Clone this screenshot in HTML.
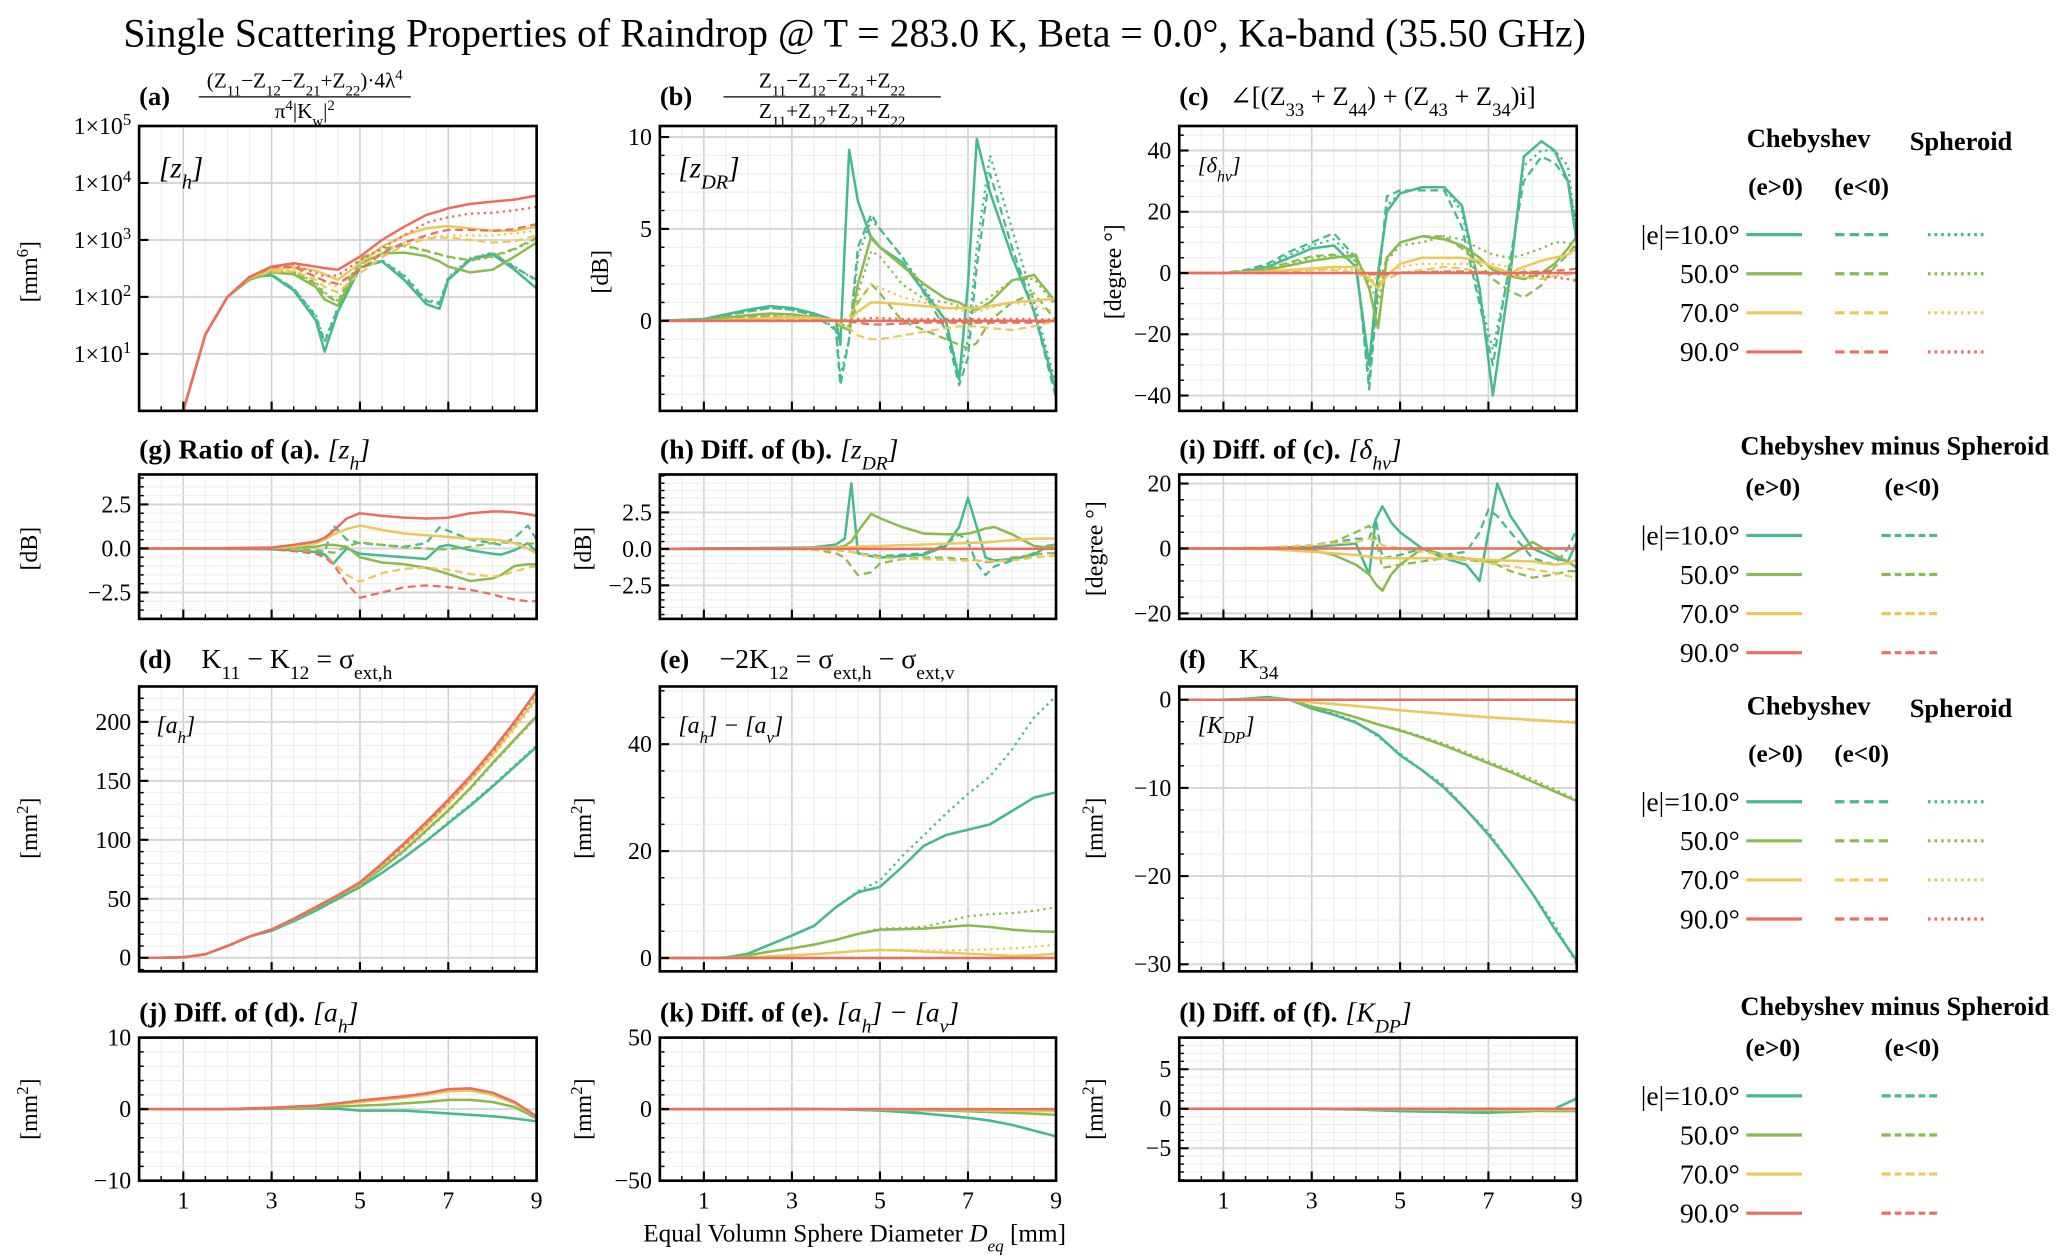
<!DOCTYPE html>
<html><head><meta charset="utf-8"><title>Single Scattering Properties of Raindrop</title>
<style>html,body{margin:0;padding:0;background:#fff}svg{display:block}</style></head>
<body>
<svg id="chart" xmlns="http://www.w3.org/2000/svg" width="2067" height="1259" viewBox="0 0 1560 950">
<rect x="0" y="0" width="1560" height="950" fill="#fff"/>
<text x="645" y="35" font-size="30" text-anchor="middle" font-family="Liberation Serif, serif">Single Scattering Properties of Raindrop @ T = 283.0 K, Beta = 0.0°, Ka-band (35.50 GHz)</text>
<text x="645" y="937" font-size="19" text-anchor="middle" font-family="Liberation Serif, serif">Equal Volumn Sphere Diameter <tspan font-style="italic">D</tspan><tspan font-style="italic" font-size="13" baseline-shift="sub">eq</tspan> [mm]</text>
</svg>
<script>
// ---- panel (a) z_h ----
const a_x = [1,1.5,2,2.5,3,3.5,4,4.2,4.5,5,5.5,6,6.5,6.8,7,7.5,8,8.5,9];
const a_s90 = [1,22,100,225,340,390,340,320,300,510,1000,1700,2750,3200,3600,4300,4700,5100,6000];
const a_p90 = [1,22,100,225,340,370,260,230,240,440,720,1200,2000,2300,2500,2900,3000,3300,3800];
const a_d90 = [1,22,100,220,330,340,225,190,170,300,580,900,1200,1400,1500,1500,1450,1550,1900];
const a_s70 = [1,22,100,220,300,330,290,250,200,390,760,1200,1600,1700,1750,1600,1450,1450,1700];
const a_p70 = [1,22,100,215,290,300,230,180,150,330,600,900,1100,1150,1200,1200,1200,1300,1450];
const a_d70 = [1,22,100,215,280,280,200,150,120,260,500,800,1050,1100,1100,1000,900,950,1200];
const a_s50 = [1,22,100,200,270,250,150,90,70,380,580,600,520,420,340,270,300,510,900];
const a_d50 = [1,22,100,205,280,270,170,110,80,470,700,800,650,560,510,440,520,700,1100];
const a_p50 = [1,22,100,205,280,275,180,120,85,450,680,780,640,550,500,430,500,680,1050];
const a_s10 = [1,22,100,220,240,130,39,11,55,330,420,200,75,62,200,450,560,300,140];
const a_d10 = [1,22,100,220,245,140,45,16,62,340,430,230,85,75,210,470,580,330,200];
const a_p10 = [1,22,100,220,245,140,48,17,66,350,440,240,90,80,220,480,600,340,190];
// ---- panel (b) z_DR ----
const b_x = [0,1,2,2.5,3,3.5,4,4.1,4.3,4.5,4.8,5,5.5,6,6.5,6.8,7,7.2,7.5,8,8.5,9];
const b_s10 = [0,0.1,0.6,0.8,0.7,0.4,0,-1.3,9.3,6.5,4.5,4,3.2,1.6,0,-3.2,2,9.9,7,3.5,0.5,-3.8];
const b_d10 = [0,0.1,0.5,0.7,0.6,0.3,-0.5,-3.5,-1,4,5.8,5,3.5,1.5,-0.5,-3.5,-2,3,8,4,0.5,-4.2];
const b_p10 = [0,0.1,0.5,0.7,0.6,0.3,-0.4,-3,-1,3.5,5.5,5,3.5,1.8,0,-3,-1,4,9,5,1,-3.5];
const b_s50 = [0,0.05,0.3,0.4,0.35,0.2,0,-0.3,-0.5,2,4.6,4,3,2,1.2,1,0.7,0.6,1,2.2,2.5,1];
const b_d50 = [0,0.05,0.2,0.25,0.2,0.1,0,-0.2,-0.3,1,2,1.5,0,-0.5,-1,-1.3,-1.5,-1.2,0,1,1.5,0];
const b_p50 = [0,0.05,0.25,0.3,0.3,0.15,0,-0.2,-0.3,1.5,3.8,3.5,2,1.2,1,0.8,0.7,0.8,1.3,2.2,2.3,0.8];
const b_s70 = [0,0,0.1,0.15,0.2,0.15,0.05,0,0,0.5,1,1,0.9,0.8,0.7,0.7,0.7,0.7,0.8,1,1.1,1.2];
const b_d70 = [0,0,0.05,0.1,0.1,0.05,0,-0.2,-0.4,-0.8,-1,-1,-0.8,-0.6,-0.4,-0.3,-0.3,-0.3,-0.4,-0.5,-0.3,0];
const b_p70 = [0,0,0.1,0.1,0.15,0.1,0,0,0.2,1,2,1.8,1.3,1,0.7,0.6,0.5,0.5,0.7,1,0.8,0.5];
const b_s90 = [0,0,0,0,0,0,0,0,0,0,0,0,0,0,0,0,0,0,0,0,0,0];
const b_d90 = [0,0,0,0,0,0,0,0,-0.05,-0.1,-0.2,-0.2,-0.15,-0.1,-0.1,-0.1,-0.1,-0.1,-0.1,-0.1,-0.1,0];
const b_p90 = [0,0,0,0,0,0,0,0,0.05,0.1,0.15,0.15,0.1,0.1,0.1,0.1,0.1,0.1,0.1,0.1,0.1,0.05];
// ---- panel (c) delta_hv ----
const c_x = [0,1,1.5,2,2.5,3,3.5,4,4.3,4.5,4.7,5,5.5,6,6.4,6.8,7.1,7.5,7.8,8.2,8.5,8.8,9];
const c_s10 = [0,0,0.5,2,5,8,9,2,-30,0,20,26,28,28,22,-5,-40,0,38,43,40,30,10];
const c_d10 = [0,0,1,3,7,10,13,5,-38,-5,25,27,27,27,15,-10,-30,5,30,38,36,30,15];
const c_p10 = [0,0,0.7,2.5,6,9,11,4,-35,-3,22,26,28,28,20,-8,-25,3,35,40,40,35,12];
const c_s50 = [0,0,0.3,1,2.5,4,5,6,-5,-18,5,10,12,11,9,5,1,-1,-2,0,3,8,12];
const c_d50 = [0,0,0.5,1.5,3.5,5.5,6,4,-2,-5,5,10,12,12,8,3,-2,-6,-8,-4,2,6,10];
const c_p50 = [0,0,0.4,1.2,3,5,5.5,5,-3,-10,4,9,10,12,11,8,6,5,6,8,10,10,8];
const c_s70 = [0,0,0.2,0.5,1,1.5,2,2,-2,-5,-1,3,5,5,5,4,2,0,2,4,5,6,8];
const c_d70 = [0,0,0.1,0.3,0.5,1,1,0,-2,-3,-2,0,1,2,1.5,0.5,0,-0.5,-1.5,-2,-1,-0.5,0];
const c_p70 = [0,0,0.1,0.4,0.8,1.2,1.5,1,-1,-2,0,2,3,3,3,3,3,2,1,0,-1,-2,-3];
const c_s90 = [0,0,0,0,0,0,0,0,0,0,0,0,0,0,0,0,0,0,0,0,0,0,0];
const c_d90 = [0,0,0,0,0,0,0,0,-0.3,-0.5,-0.3,0,0.3,0.5,0.5,0.3,0,0,0.3,0.5,0.8,1,1.5];
const c_p90 = [0,0,0,0,0,0,0,0,-0.2,-0.3,0,0.2,0.3,0.3,0.2,0,-0.3,-0.5,-0.8,-1,-1.5,-2,-2.3];
// ---- panel (g) ratio of zh ----
const g_x = [0,1,2,3,3.5,4,4.2,4.4,4.7,5,5.5,6,6.5,6.8,7,7.5,8,8.2,8.5,8.8,9];
const g_s90 = [0,0,0.02,0.05,0.2,0.4,0.6,1.0,1.7,2.0,1.85,1.75,1.7,1.72,1.75,2.0,2.1,2.1,2.05,1.95,1.85];
const g_d90 = [0,0,-0.02,-0.05,-0.15,-0.3,-0.5,-0.9,-2.0,-2.8,-2.5,-2.2,-2.1,-2.15,-2.2,-2.35,-2.6,-2.75,-2.9,-3.0,-3.0];
const g_s70 = [0,0,0.02,0.05,0.1,0.3,0.5,0.8,1.1,1.3,1.05,0.85,0.75,0.7,0.65,0.55,0.5,0.45,0.3,0,-0.3];
const g_d70 = [0,0,-0.02,-0.05,-0.1,-0.3,-0.5,-0.8,-1.5,-1.9,-1.4,-1.15,-1.1,-1.15,-1.2,-1.45,-1.6,-1.55,-1.3,-1.1,-1.0];
const g_s50 = [0,0,0,0.02,0.05,0.1,0.2,0.2,0.1,-0.5,-0.8,-0.9,-1.1,-1.3,-1.45,-1.85,-1.7,-1.5,-1.0,-0.9,-0.9];
const g_d50 = [0,0,0,-0.02,-0.05,-0.1,-0.15,-0.25,0.1,0.35,0.2,0.05,0.0,-0.05,-0.05,0.1,0.3,0.35,0.3,0.25,0.3];
const g_s10 = [0,0,-0.02,-0.05,-0.1,-0.2,-0.35,-0.85,0,-0.3,-0.4,-0.5,-0.6,0.1,0.2,-0.1,-0.3,-0.35,-0.1,0.3,-0.2];
const g_d10 = [0,0,-0.02,-0.05,-0.1,-0.2,-0.2,1.3,0.5,0.3,0.2,0.1,0.3,1.2,1.0,0.5,0.3,0.2,0.6,1.3,0.5];
// ---- panel (h) diff of zdr ----
const h_x = [0,1,2,3,3.5,4,4.2,4.35,4.5,4.8,5,5.5,6,6.5,6.8,7,7.2,7.4,7.6,8,8.5,8.8,9];
const h_s10 = [0,0.03,0.05,0.08,0.1,0.3,0.7,4.5,-0.3,-0.5,-0.6,-0.5,-0.4,0.2,1.5,3.5,1.5,-0.6,-0.8,-0.7,-0.4,0.2,0.3];
const h_d10 = [0,0,0,0,0,0,-0.1,-0.2,-0.3,-0.4,-0.5,-0.4,-0.3,0.3,1.0,0.5,-1.0,-1.8,-1.2,-0.8,-0.3,0.2,0];
const h_s50 = [0,0,0,0.02,0.05,0.1,0.2,0.5,1.2,2.4,2.1,1.5,1.05,1.0,1.0,1.05,1.2,1.4,1.5,1.0,0.2,0.1,0.3];
const h_d50 = [0,0,0,-0.02,-0.05,-0.3,-0.6,-1.2,-1.8,-1.6,-1.0,-0.7,-0.6,-0.6,-0.7,-0.7,-0.8,-0.9,-0.9,-0.6,-0.4,-0.3,-0.3];
const h_s70 = [0,0,0,0.02,0.05,0.08,0.1,0.12,0.15,0.2,0.2,0.25,0.3,0.35,0.38,0.4,0.42,0.45,0.5,0.6,0.7,0.7,0.7];
const h_d70 = [0,0,0,-0.02,-0.05,-0.1,-0.15,-0.2,-0.3,-0.5,-0.6,-0.7,-0.7,-0.75,-0.8,-0.8,-0.8,-0.85,-0.85,-0.8,-0.6,-0.5,-0.5];
const h_s90 = [0,0,0,0,0,0,0,0,0,0,0,0,0,0,0,0,0,0,0,0,0,0,0];
const h_d90 = [0,0,0,0,0,0,0,0,0,0,0,0,0,0,0,0,0,0,0,0,0,0,0];
// ---- panel (i) diff of delta_hv ----
const i_x = [0,1,2,3,3.5,4,4.3,4.45,4.6,4.8,5,5.5,6,6.5,6.8,7,7.2,7.5,8,8.5,8.8,9];
const i_s10 = [0,0,0.2,0.5,1,1.5,-8,9,13,8,5,0,-3,-5,-10,5,20,10,0,-3,-4,2];
const i_d10 = [0,0,0.3,1,2,3,3,9,-3,-2.5,-2,0,-2,-1,5,12,10,5,-3,-5,0,6];
const i_s50 = [0,0,-0.2,-0.5,-2,-5,-8,-11,-13,-8,-5,0,-2,-3,-3.5,-4,-4,-2,2,-2,-4,-6];
const i_d50 = [0,0,0.3,1,2,5,7,3,-6,-5.5,-5,-4,-3,-3.5,-4,-4,-5,-7,-9,-8,-7,-7];
const i_s70 = [0,0,-0.2,-1,-1.5,-2,-2.5,-3,-3,-3,-3,-3,-3,-3.2,-3.4,-3.5,-3.6,-3.8,-4,-5,-4.5,-3.5];
const i_d70 = [0,0,0.3,1,1.5,2,3,2.5,1,0.5,0,-1,-2,-3,-4,-4.5,-5,-5.5,-6.5,-7.5,-8.5,-9];
const i_s90 = [0,0,0,0,0,0,0,0,0,0,0,0,0,0,0,0,0,0,0,0,0,0];
const i_d90 = [0,0,0,0,0,0,0,0,0,0,0,0,0,0,0,0,0,0,0,0,0,0];
// ---- row 3 / row 4 shared x ----
const r_x = [0,0.5,1,1.5,2,2.5,3,3.5,4,4.5,5,5.5,6,6.5,7,7.5,8,8.5,9];
// (d) a_h
const d_s90 = [0,0,0.5,3,10,18,24,33,43,53,64,80,97,115,134,154,176,200,226];
const d_s70 = [0,0,0.5,3,10,18,24,33,43,53,63,79,95,112,131,151,172,196,220];
const d_s50 = [0,0,0.5,3,10,18,24,32,42,52,62,76,91,108,125,144,165,185,205];
const d_s10 = [0,0,0.5,3,10,18,23,31,40,50,60,72,85,99,114,129,145,162,179];
const d_p90 = [0,0,0.5,3,10,18,24,33,43,53,63,79,95,113,132,152,174,198,224];
const d_p70 = [0,0,0.5,3,10,18,24,33,43,53,62,78,94,111,130,150,170,194,218];
const d_p50 = [0,0,0.5,3,10,18,24,32,42,52,61,76,90,107,124,143,164,184,204];
const d_p10 = [0,0,0.5,3,10,18,23,31,40,50,60,72,85,99,115,130,146,163,180];
// (e) a_h - a_v
const e_s10 = [0,0,0,0.1,0.8,2.5,4.2,6,9.5,12.3,13.3,17,21,23,24,25,27.5,30,31];
const e_p10 = [0,0,0,0.1,0.8,2.5,4.2,6,9.5,12.5,14.5,19,23,27,30.7,34,39,45,49];
const e_s50 = [0,0,0,0.05,0.5,1.2,1.8,2.5,3.4,4.5,5.3,5.4,5.5,5.8,6.1,5.8,5.3,5,4.9];
const e_p50 = [0,0,0,0.05,0.5,1.2,1.8,2.5,3.4,4.6,5.5,5.6,5.8,6.8,7.8,8.2,8.4,8.8,9.5];
const e_s70 = [0,0,0,0,0.1,0.3,0.5,0.7,1,1.3,1.5,1.4,1.2,1,0.8,0.6,0.4,0.5,0.8];
const e_p70 = [0,0,0,0,0.1,0.3,0.5,0.7,1,1.3,1.5,1.5,1.4,1.4,1.5,1.6,1.8,2.1,2.5];
const e_s90 = [0,0,0,0,0,0,0,0,0,0,0,0,0,0,0,0,0,0,0];
// (f) K_DP
const f_s10 = [0,0,0,0.1,0.3,0,-1,-1.7,-2.6,-4,-6.3,-8,-10,-12.5,-15.3,-18.5,-22,-26,-29.6];
const f_p10 = [0,0,0,0.1,0.3,0,-0.9,-1.6,-2.5,-4.2,-6.1,-8,-9.7,-12.5,-15,-18.5,-22,-25.5,-30];
const f_s50 = [0,0,0,0.05,0.15,0,-0.8,-1.3,-2,-2.8,-3.5,-4.3,-5.2,-6.2,-7.2,-8.2,-9.3,-10.4,-11.5];
const f_p50 = [0,0,0,0.05,0.15,0,-0.8,-1.3,-2,-2.8,-3.4,-4.2,-5,-6,-7,-8,-9,-10.2,-11.3];
const f_s70 = [0,0,0,0,0.05,0,-0.3,-0.5,-0.7,-0.95,-1.2,-1.4,-1.6,-1.8,-2,-2.15,-2.3,-2.45,-2.6];
const f_p70 = [0,0,0,0,0.05,0,-0.3,-0.5,-0.7,-0.95,-1.2,-1.4,-1.6,-1.75,-1.95,-2.1,-2.25,-2.4,-2.5];
const f_s90 = [0,0,0,0,0,0,0,0,0,0,0,0,0,0,0,0,0,0,0];
// (j) diff a_h
const j_s90 = [0,0,0,0,0,0.1,0.2,0.35,0.5,0.8,1.2,1.5,1.8,2.2,2.8,2.9,2.3,1.0,-1.0];
const j_s70 = [0,0,0,0,0,0.1,0.2,0.3,0.45,0.7,1.0,1.3,1.6,2.0,2.5,2.6,2.0,0.8,-1.0];
const j_s50 = [0,0,0,0,0,0.05,0.1,0.15,0.2,0.35,0.5,0.6,0.8,1.0,1.3,1.3,1.0,0.3,-1.3];
const j_s10 = [0,0,0,0,0,0.02,0.05,0.1,0.1,0.05,-0.2,-0.2,-0.2,-0.4,-0.6,-0.8,-1.0,-1.3,-1.7];
// (k) diff a_h - a_v
const k_s10 = [0,0,0,0,0,0.2,0.3,0.2,0,-0.5,-1,-2,-3,-4.5,-6,-8,-11,-15,-19];
const k_s50 = [0,0,0,0,0,0,0,0,-0.1,-0.2,-0.4,-0.6,-0.8,-1,-1.5,-2,-2.5,-3.2,-4];
const k_s70 = [0,0,0,0,0,0,0,0,0,-0.1,-0.2,-0.3,-0.4,-0.5,-0.7,-0.9,-1,-1.2,-1.5];
const k_s90 = [0,0,0,0,0,0,0,0,0,0,0,0,0,0,0,0,0,0,0];
// (l) diff K_DP
const l_s10 = [0,0,0,0,0,0,0,-0.05,-0.1,-0.2,-0.3,-0.35,-0.4,-0.45,-0.5,-0.4,-0.3,0,1.3];
const l_s50 = [0,0,0,0,0,0,0,0,-0.05,-0.08,-0.1,-0.12,-0.15,-0.2,-0.2,-0.25,-0.25,-0.3,-0.3];
const l_s70 = [0,0,0,0,0,0,0,0,0,-0.03,-0.05,-0.06,-0.08,-0.1,-0.1,-0.1,-0.1,-0.1,-0.1];
const l_s90 = [0,0,0,0,0,0,0,0,0,0,0,0,0,0,0,0,0,0,0];

const COL = {10:'#47b98e',50:'#8bbb4f',70:'#ebc85a',90:'#eb6d5f'};
const SERIF = 'Liberation Serif, DejaVu Serif, serif';
const NS = 'http://www.w3.org/2000/svg';
const svg = document.getElementById('chart');

function mk(tag, attrs, parent) {
  const e = document.createElementNS(NS, tag);
  for (const k in attrs) e.setAttribute(k, attrs[k]);
  (parent || svg).appendChild(e);
  return e;
}
function rich(parent, x, y, str, size, anchor, extra) {
  const t = mk('text', {x: x, y: y, 'font-size': size, 'font-family': SERIF, 'text-anchor': anchor || 'start'}, parent);
  if (extra) for (const k in extra) t.setAttribute(k, extra[k]);
  const re = /(_\{[^}]*\}|\^\{[^}]*\}|[^_^]+)/g;
  let m;
  while ((m = re.exec(str)) !== null) {
    const tok = m[0];
    const ts = document.createElementNS(NS, 'tspan');
    if (tok.startsWith('_{')) { ts.textContent = tok.slice(2, -1); ts.setAttribute('baseline-shift', 'sub'); ts.setAttribute('font-size', size * 0.7); }
    else if (tok.startsWith('^{')) { ts.textContent = tok.slice(2, -1); ts.setAttribute('baseline-shift', 'super'); ts.setAttribute('font-size', size * 0.7); }
    else ts.textContent = tok;
    t.appendChild(ts);
  }
  return t;
}

const COLS = [[105,405],[498,797],[890,1190]];
const ROWS = [[95,310],[358,467],[518,733],[783,891]];
let clipN = 0;

function panel(name, col, row, ymin, ymax, log, majors, minors, fmt, series, xlabels) {
  const [x0, x1] = COLS[col], [y0, y1] = ROWS[row];
  const g = mk('g', {});
  
  
  const X = v => x0 + (v - 0) / 9 * (x1 - x0);
  const Y = log ? (v => y1 - (Math.log10(Math.max(v, 1e-3)) - Math.log10(ymin)) / (Math.log10(ymax) - Math.log10(ymin)) * (y1 - y0))
                : (v => y1 - (v - ymin) / (ymax - ymin) * (y1 - y0));
  const cid = 'clip' + (clipN++);
  const cp = mk('clipPath', {id: cid}, g);
  mk('rect', {x: x0, y: y0, width: x1 - x0, height: y1 - y0}, cp);
  const grid = mk('g', {}, g);
  
  
  for (let k = 1; k <= 17; k++) {
    const v = k * 0.5; const major = (v % 2 === 1);
    mk('line', {x1: X(v), x2: X(v), y1: y0, y2: y1, stroke: major ? '#d0d0d0' : '#ededed', 'stroke-width': major ? 1.2 : 0.8}, grid);
  }
  minors.forEach(v => mk('line', {x1: x0, x2: x1, y1: Y(v), y2: Y(v), stroke: '#eeeeee', 'stroke-width': 0.8}, grid));
  majors.forEach(v => mk('line', {x1: x0, x2: x1, y1: Y(v), y2: Y(v), stroke: '#d6d6d6', 'stroke-width': 1.5}, grid));
  const sg = mk('g', {'clip-path': 'url(#' + cid + ')'}, g);
  series.forEach(s => {
    const d = s.y.map((v, i) => (i ? 'L' : 'M') + X(s.x[i]).toFixed(2) + ' ' + Y(v).toFixed(2)).join('');
    const p = mk('path', {d: d, fill: 'none', stroke: COL[s.a], 'stroke-width': s.st === 's' ? 1.9 : 1.7, 'stroke-linejoin': 'round'}, sg);
    if (s.st === 'd') p.setAttribute('stroke-dasharray', '6,3.5');
    if (s.st === 'p') p.setAttribute('stroke-dasharray', '1.8,3');
    
    
  });
  const fr = mk('rect', {x: x0, y: y0, width: x1 - x0, height: y1 - y0, fill: 'none', stroke: '#000', 'stroke-width': 2}, g);
  
  
  for (let k = 1; k <= 18; k++) {
    const v = k * 0.5; const major = (v % 2 === 1);
    mk('line', {x1: X(v), x2: X(v), y1: y1, y2: y1 - (major ? 7 : 3.5), stroke: '#000', 'stroke-width': major ? 1.6 : 1.1}, g);
  }
  minors.forEach(v => mk('line', {x1: x0, x2: x0 + 3.5, y1: Y(v), y2: Y(v), stroke: '#000', 'stroke-width': 1.1}, g));
  majors.forEach(v => {
    mk('line', {x1: x0, x2: x0 + 7, y1: Y(v), y2: Y(v), stroke: '#000', 'stroke-width': 1.6}, g);
    const t = rich(g, x0 - 6, Y(v) + 6, fmt(v), 18, 'end');
    
    
  });
  if (xlabels) {
    [1,3,5,7,9].forEach(v => {
      const t = mk('text', {x: X(v), y: y1 + 21, 'font-size': 18, 'font-family': SERIF, 'text-anchor': 'middle'}, g);
      t.textContent = String(v);
      
      
    });
  }
  return g;
}
function S(x, y, a, st) { return {x: x, y: y, a: a, st: st}; }
const neg = v => (v < 0 ? '\u2212' + Math.abs(v) : String(v));
const neg1 = v => (v < 0 ? '\u2212' + Math.abs(v).toFixed(1) : v.toFixed(1));
function rng(a, b, s) { const r = []; for (let v = a; v <= b + 1e-9; v += s) r.push(Math.round(v * 100) / 100); return r; }

panel('a', 0, 0, 1, 1e5, true, [10,100,1000,10000,100000], [], v => '1×10^{' + Math.round(Math.log10(v)) + '}', [
  S(a_x,a_p10,10,'p'),S(a_x,a_d10,10,'d'),S(a_x,a_s10,10,'s'),
  S(a_x,a_p50,50,'p'),S(a_x,a_d50,50,'d'),S(a_x,a_s50,50,'s'),
  S(a_x,a_p70,70,'p'),S(a_x,a_d70,70,'d'),S(a_x,a_s70,70,'s'),
  S(a_x,a_p90,90,'p'),S(a_x,a_d90,90,'d'),S(a_x,a_s90,90,'s')], false);
panel('b', 1, 0, -4.9, 10.6, false, [0,5,10], rng(-4,10,1), neg, [
  S(b_x,b_p10,10,'p'),S(b_x,b_d10,10,'d'),S(b_x,b_s10,10,'s'),
  S(b_x,b_p50,50,'p'),S(b_x,b_d50,50,'d'),S(b_x,b_s50,50,'s'),
  S(b_x,b_p70,70,'p'),S(b_x,b_d70,70,'d'),S(b_x,b_s70,70,'s'),
  S(b_x,b_p90,90,'p'),S(b_x,b_d90,90,'d'),S(b_x,b_s90,90,'s')], false);
panel('c', 2, 0, -45, 48, false, [-40,-20,0,20,40], rng(-45,45,5), neg, [
  S(c_x,c_p10,10,'p'),S(c_x,c_d10,10,'d'),S(c_x,c_s10,10,'s'),
  S(c_x,c_p50,50,'p'),S(c_x,c_d50,50,'d'),S(c_x,c_s50,50,'s'),
  S(c_x,c_p70,70,'p'),S(c_x,c_d70,70,'d'),S(c_x,c_s70,70,'s'),
  S(c_x,c_p90,90,'p'),S(c_x,c_d90,90,'d'),S(c_x,c_s90,90,'s')], false);
panel('g', 0, 1, -4, 4.2, false, [-2.5,0,2.5], rng(-4,4,0.5), neg1, [
  S(g_x,g_d10,10,'d'),S(g_x,g_s10,10,'s'),S(g_x,g_d50,50,'d'),S(g_x,g_s50,50,'s'),
  S(g_x,g_d70,70,'d'),S(g_x,g_s70,70,'s'),S(g_x,g_d90,90,'d'),S(g_x,g_s90,90,'s')], false);
panel('h', 1, 1, -4.8, 5.1, false, [-2.5,0,2.5], rng(-4.5,5,0.5), neg1, [
  S(h_x,h_d10,10,'d'),S(h_x,h_s10,10,'s'),S(h_x,h_d50,50,'d'),S(h_x,h_s50,50,'s'),
  S(h_x,h_d70,70,'d'),S(h_x,h_s70,70,'s'),S(h_x,h_d90,90,'d'),S(h_x,h_s90,90,'s')], false);
panel('i', 2, 1, -21.7, 22.8, false, [-20,0,20], rng(-20,20,5), neg, [
  S(i_x,i_d10,10,'d'),S(i_x,i_s10,10,'s'),S(i_x,i_d50,50,'d'),S(i_x,i_s50,50,'s'),
  S(i_x,i_d70,70,'d'),S(i_x,i_s70,70,'s'),S(i_x,i_d90,90,'d'),S(i_x,i_s90,90,'s')], false);
panel('d', 0, 2, -11.5, 230, false, [0,50,100,150,200], rng(-10,230,10), neg, [
  S(r_x,d_p10,10,'p'),S(r_x,d_s10,10,'d'),S(r_x,d_s10,10,'s'),
  S(r_x,d_p50,50,'p'),S(r_x,d_s50,50,'d'),S(r_x,d_s50,50,'s'),
  S(r_x,d_p70,70,'p'),S(r_x,d_s70,70,'d'),S(r_x,d_s70,70,'s'),
  S(r_x,d_p90,90,'p'),S(r_x,d_s90,90,'d'),S(r_x,d_s90,90,'s')], false);
panel('e', 1, 2, -2.5, 50.8, false, [0,20,40], rng(0,50,5), neg, [
  S(r_x,e_p10,10,'p'),S(r_x,e_s10,10,'d'),S(r_x,e_s10,10,'s'),
  S(r_x,e_p50,50,'p'),S(r_x,e_s50,50,'d'),S(r_x,e_s50,50,'s'),
  S(r_x,e_p70,70,'p'),S(r_x,e_s70,70,'d'),S(r_x,e_s70,70,'s'),
  S(r_x,e_s90,90,'p'),S(r_x,e_s90,90,'d'),S(r_x,e_s90,90,'s')], false);
panel('f', 2, 2, -30.8, 1.5, false, [-30,-20,-10,0], rng(-30,0,2.5), neg, [
  S(r_x,f_p10,10,'p'),S(r_x,f_s10,10,'d'),S(r_x,f_s10,10,'s'),
  S(r_x,f_p50,50,'p'),S(r_x,f_s50,50,'d'),S(r_x,f_s50,50,'s'),
  S(r_x,f_p70,70,'p'),S(r_x,f_s70,70,'d'),S(r_x,f_s70,70,'s'),
  S(r_x,f_s90,90,'p'),S(r_x,f_s90,90,'d'),S(r_x,f_s90,90,'s')], false);
panel('j', 0, 3, -10, 10, false, [-10,0,10], rng(-10,10,2), neg, [
  S(r_x,j_s10,10,'d'),S(r_x,j_s10,10,'s'),S(r_x,j_s50,50,'d'),S(r_x,j_s50,50,'s'),
  S(r_x,j_s70,70,'d'),S(r_x,j_s70,70,'s'),S(r_x,j_s90,90,'d'),S(r_x,j_s90,90,'s')], true);
panel('k', 1, 3, -50, 50, false, [-50,0,50], rng(-50,50,10), neg, [
  S(r_x,k_s10,10,'d'),S(r_x,k_s10,10,'s'),S(r_x,k_s50,50,'d'),S(r_x,k_s50,50,'s'),
  S(r_x,k_s70,70,'d'),S(r_x,k_s70,70,'s'),S(r_x,k_s90,90,'d'),S(r_x,k_s90,90,'s')], true);
panel('l', 2, 3, -9.1, 9, false, [-5,0,5], rng(-9,9,1), neg, [
  S(r_x,l_s10,10,'d'),S(r_x,l_s10,10,'s'),S(r_x,l_s50,50,'d'),S(r_x,l_s50,50,'s'),
  S(r_x,l_s70,70,'d'),S(r_x,l_s70,70,'s'),S(r_x,l_s90,90,'d'),S(r_x,l_s90,90,'s')], true);

// ---- titles ----
function label(x, y, str, size, name, opts) {
  const t = rich(svg, x, y, str, size, (opts && opts.anchor) || 'start', opts && opts.extra);
  
  
  return t;
}
const B = {'font-weight': 'bold'};
const IT = {'font-style': 'italic'};
function titled(x, y, boldStr, varStr, name) {
  const t = label(x, y, boldStr, 21, name, {extra: B});
  let w = 0;
  try { w = t.getComputedTextLength(); } catch (e) { w = boldStr.length * 9.5; }
  if (!w) w = boldStr.length * 9.5;
  label(x + w + 6, y, varStr, 21, name + '-var', {extra: IT});
}
label(105, 79, '(a)', 20, 'panel-a-letter', {extra: B});
label(230, 66, '(Z_{11}−Z_{12}−Z_{21}+Z_{22})·4λ^{4}', 16, 'panel-a-numerator', {anchor: 'middle'});
mk('line', {x1: 150, x2: 310, y1: 73, y2: 73, stroke: '#000', 'stroke-width': 1});
label(230, 89, 'π^{4}|K_{w}|^{2}', 16, 'panel-a-denominator', {anchor: 'middle'});
label(498, 79, '(b)', 20, 'panel-b-letter', {extra: B});
label(628, 66, 'Z_{11}−Z_{12}−Z_{21}+Z_{22}', 16, 'panel-b-numerator', {anchor: 'middle'});
mk('line', {x1: 546, x2: 710, y1: 73, y2: 73, stroke: '#000', 'stroke-width': 1});
label(628, 89, 'Z_{11}+Z_{12}+Z_{21}+Z_{22}', 16, 'panel-b-denominator', {anchor: 'middle'});
label(890, 79, '(c)', 20, 'panel-c-letter', {extra: B});
label(928, 79, '∠[(Z_{33} + Z_{44}) + (Z_{43} + Z_{34})i]', 20, 'panel-c-title');
titled(105, 346, '(g)  Ratio of (a).', '[z_{h}]', 'panel-g-title');
titled(498, 346, '(h)  Diff. of (b).', '[z_{DR}]', 'panel-h-title');
titled(890, 346, '(i)  Diff. of (c).', '[δ_{hv}]', 'panel-i-title');
label(105, 504, '(d)', 20, 'panel-d-letter', {extra: B});
label(152, 504, 'K_{11} − K_{12} = σ_{ext,h}', 21, 'panel-d-title');
label(498, 504, '(e)', 20, 'panel-e-letter', {extra: B});
label(543, 504, '−2K_{12} = σ_{ext,h} − σ_{ext,v}', 21, 'panel-e-title');
label(890, 504, '(f)', 20, 'panel-f-letter', {extra: B});
label(935, 504, 'K_{34}', 21, 'panel-f-title');
titled(105, 771, '(j)  Diff. of (d).', '[a_{h}]', 'panel-j-title');
titled(498, 771, '(k)  Diff. of (e).', '[a_{h}] − [a_{v}]', 'panel-k-title');
titled(890, 771, '(l)  Diff. of (f).', '[K_{DP}]', 'panel-l-title');
// insets
label(120, 134, '[z_{h}]', 22, 'inset-zh', {extra: IT});
label(512, 134, '[z_{DR}]', 22, 'inset-zdr', {extra: IT});
label(904, 130, '[δ_{hv}]', 17, 'inset-dhv', {extra: IT});
label(118, 553, '[a_{h}]', 18, 'inset-ah', {extra: IT});
label(512, 553, '[a_{h}] − [a_{v}]', 18, 'inset-ah-av', {extra: IT});
label(904, 553, '[K_{DP}]', 18, 'inset-kdp', {extra: IT});
function ytitle(x, y, str, name) {
  const t = rich(svg, 0, 0, str, 18, 'middle', {transform: 'translate(' + x + ',' + y + ') rotate(-90)'});
  
  
}
ytitle(28, 205, '[mm^{6}]', 'y-axis-title-a');
ytitle(459, 205, '[dB]', 'y-axis-title-b');
ytitle(846, 205, '[degree °]', 'y-axis-title-c');
ytitle(28, 414, '[dB]', 'y-axis-title-g');
ytitle(446, 414, '[dB]', 'y-axis-title-h');
ytitle(832, 414, '[degree °]', 'y-axis-title-i');
ytitle(28, 625, '[mm^{2}]', 'y-axis-title-d');
ytitle(446, 625, '[mm^{2}]', 'y-axis-title-e');
ytitle(832, 625, '[mm^{2}]', 'y-axis-title-f');
ytitle(28, 837, '[mm^{2}]', 'y-axis-title-j');
ytitle(446, 837, '[mm^{2}]', 'y-axis-title-k');
ytitle(832, 837, '[mm^{2}]', 'y-axis-title-l');

// ---- legends ----
const LEG_ANG = [10,50,70,90];
function legend(name, top, three) {
  const g = mk('g', {});
  
  
  function tx(x, y, s, size, anchor, bold) {
    const t = mk('text', {x: x, y: y, 'font-size': size, 'font-family': SERIF, 'text-anchor': anchor, 'font-weight': bold ? 'bold' : 'normal'}, g);
    t.textContent = s;
    
    
    return t;
  }
  let rowY;
  if (three) {
    tx(1365, top, 'Chebyshev', 20, 'middle', true);
    tx(1480, top + 2, 'Spheroid', 20, 'middle', true);
    tx(1340, top + 36, '(e>0)', 19, 'middle', true);
    tx(1405, top + 36, '(e<0)', 19, 'middle', true);
    rowY = top + 66;
  } else {
    tx(1430, top, 'Chebyshev minus Spheroid', 20, 'middle', true);
    tx(1338, top + 31, '(e>0)', 19, 'middle', true);
    tx(1443, top + 31, '(e<0)', 19, 'middle', true);
    rowY = top + 61;
  }
  LEG_ANG.forEach((a, k) => {
    const y = rowY + k * 29.5;
    tx(1313, y + 7, (k === 0 ? '|e|=' : '') + a.toFixed(1) + '°', 21, 'end', false);
    const l1 = mk('line', {x1: 1318, x2: 1360, y1: y, y2: y, stroke: COL[a], 'stroke-width': 2.4}, g);
    
    
    const dx = three ? 1385 : 1420;
    const l2 = mk('line', {x1: dx, x2: dx + 42, y1: y, y2: y, stroke: COL[a], 'stroke-width': 2.4, 'stroke-dasharray': three ? '7,4' : '7,3,5,3'}, g);
    
    
    if (three) {
      const l3 = mk('line', {x1: 1455, x2: 1497, y1: y, y2: y, stroke: COL[a], 'stroke-width': 2.4, 'stroke-dasharray': '2,3'}, g);
      
      
    }
  });
}
legend('legend-row1', 111, true);
legend('legend-row2', 343, false);
legend('legend-row3', 539, true);
legend('legend-row4', 766, false);
</script>
</body></html>
